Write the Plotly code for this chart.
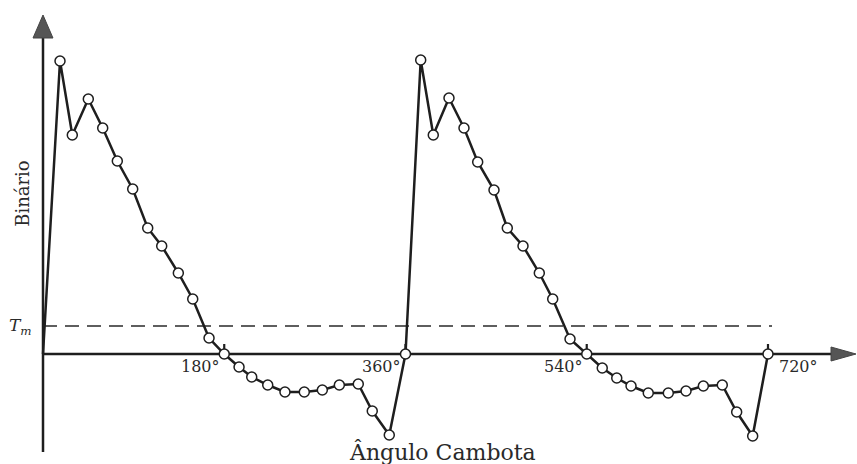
import plotly.graph_objects as go

# ---- data (crank angle in degrees, torque in arbitrary units) ----
crank_angle = [0, 16.9, 29.1, 45.0, 59.3, 73.8, 89.1, 104.0, 117.9, 134.4, 148.7, 164.9, 180,
               194.7, 207.3, 223.2, 240.3, 259.5, 277.4, 294.3, 313.1, 327.0, 343.9, 360,
               375.1, 387.6, 403.2, 418.1, 431.7, 447.9, 461.1, 476.7, 492.9, 506.2, 523.4, 540,
               555.4, 569.8, 584.0, 601.1, 621.0, 638.6, 655.8, 674.6, 688.9, 704.8, 720]
torque = [0, 293, 219, 255, 226, 193, 165, 126, 108, 81, 55, 16, 0,
          -13, -23, -31, -38, -38, -36, -31, -30, -57, -81, 0,
          294, 219, 256, 226, 192, 164, 126, 108, 81, 55, 15, 0,
          -14, -24, -32, -39, -39, -37, -32, -31, -58, -82, 0]
tick_angles = [180, 360, 540, 720]
tick_labels = ["180°", "360°", "540°", "720°"]
mean_torque = 28
y_label = "Binário"
x_label = "Ângulo Cambota"

# ---- style ----
INK = "#1e1e1e"
TXT = "#2a2a2a"
FONT = "DejaVu Serif, Liberation Serif, serif"
X_MIN, X_MAX = -42.7, 808.4
Y_MIN, Y_MAX = -110, 354

fig = go.Figure()

sizes = [0] + [10] * (len(crank_angle) - 1)
fig.add_trace(go.Scatter(
    x=crank_angle, y=torque, mode="lines+markers",
    line=dict(color=INK, width=2.5),
    marker=dict(size=sizes, color="#ffffff", opacity=1,
                line=dict(color=INK, width=1.5)),
    showlegend=False, hoverinfo="skip"))

shapes = []
# y axis line
shapes.append(dict(type="line", xref="x", yref="y", x0=0, x1=0, y0=-98, y1=320,
                   line=dict(color=INK, width=2.5), layer="below"))
# x axis line
shapes.append(dict(type="line", xref="x", yref="y", x0=0, x1=785, y0=0, y1=0,
                   line=dict(color=INK, width=2.5), layer="below"))
# arrowheads
shapes.append(dict(type="path", xref="x", yref="y",
                   path="M -9.9,316 L 0,339 L 9.9,316 Z",
                   fillcolor="#555555", line=dict(color="#444444", width=1)))
shapes.append(dict(type="path", xref="x", yref="y",
                   path="M 782.6,7 L 807.4,0 L 782.6,-7 Z",
                   fillcolor="#555555", line=dict(color="#444444", width=1)))
# mean torque dashed line
shapes.append(dict(type="line", xref="x", yref="y", x0=0, x1=724, y0=mean_torque, y1=mean_torque,
                   line=dict(color=TXT, width=1.3, dash="14px,8px"), layer="below"))
# tick marks
for a in tick_angles:
    shapes.append(dict(type="line", xref="x", yref="y", x0=a, x1=a, y0=0, y1=10,
                       line=dict(color=INK, width=2.2), layer="below"))

annotations = []
for a, lab in zip(tick_angles, tick_labels):
    if a < 720:
        annotations.append(dict(x=a - 2, y=-12, xref="x", yref="y", text=lab, showarrow=False,
                                xanchor="right", yanchor="middle",
                                font=dict(family=FONT, size=16, color=TXT)))
    else:
        annotations.append(dict(x=a + 9, y=-12, xref="x", yref="y", text=lab, showarrow=False,
                                xanchor="left", yanchor="middle",
                                font=dict(family=FONT, size=16, color=TXT)))
annotations.append(dict(x=-9, y=mean_torque, xref="x", yref="y", text="<i>T<sub>m</sub></i>",
                        showarrow=False, xanchor="right", yanchor="middle",
                        font=dict(family=FONT, size=17, color=TXT)))
annotations.append(dict(x=-21, y=161, xref="x", yref="y", text=y_label, textangle=-90,
                        showarrow=False, xanchor="center", yanchor="middle",
                        font=dict(family=FONT, size=18, color=TXT)))
annotations.append(dict(x=397, y=-98, xref="x", yref="y", text=x_label,
                        showarrow=False, xanchor="center", yanchor="middle",
                        font=dict(family=FONT, size=22, color=TXT)))

fig.update_layout(
    width=857, height=464,
    margin=dict(l=0, r=0, t=0, b=0),
    paper_bgcolor="white", plot_bgcolor="white",
    xaxis=dict(range=[X_MIN, X_MAX], visible=False, fixedrange=True),
    yaxis=dict(range=[Y_MIN, Y_MAX], visible=False, fixedrange=True),
    shapes=shapes, annotations=annotations,
)

fig.write_html("out.html")
